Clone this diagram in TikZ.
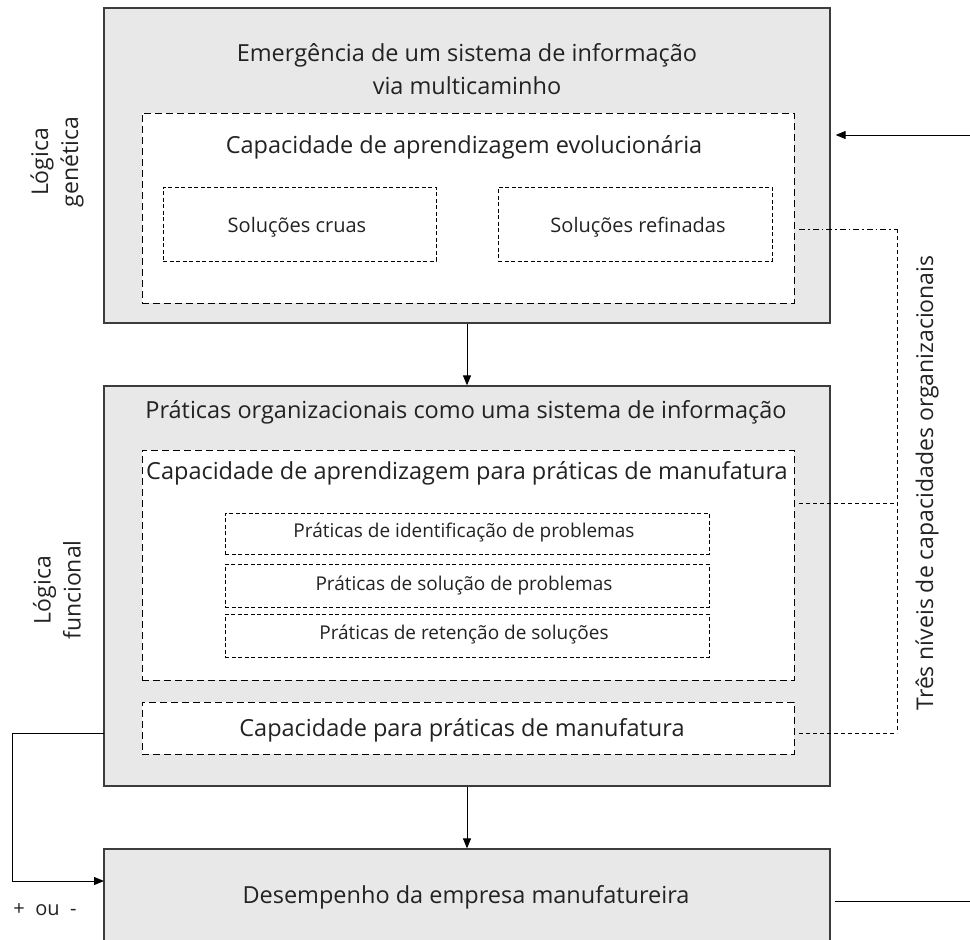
\documentclass[tikz,border=0pt]{standalone}
\usepackage{fontspec}
\setmainfont{Open Sans}
\usetikzlibrary{arrows.meta}

\definecolor{boxfill}{HTML}{E8E8E8}
\definecolor{boxline}{HTML}{3C3C3C}
\definecolor{ink}{HTML}{222222}

\newcommand{\bigtxt}{\fontsize{23.5}{33}\selectfont}
\newcommand{\sidetxt}{\fontsize{23}{30}\selectfont}
\newcommand{\midtxt}{\fontsize{20}{24}\selectfont}
\newcommand{\smalltxt}{\fontsize{19}{22}\selectfont}

\tikzset{
  outerbox/.style={draw=boxline, fill=boxfill, line width=1.3pt, inner sep=0pt},
  groupbox/.style={draw=black, fill=white, line width=0.9pt, dash pattern=on 7pt off 4pt, inner sep=0pt},
  itembox/.style={draw=black, fill=white, line width=0.9pt, dash pattern=on 4pt off 2.5pt, inner sep=0pt},
  label/.style={text=ink, inner sep=0pt, align=center},
  flow/.style={line width=1pt, -{Triangle[length=10pt,width=8pt]}},
  link/.style={line width=0.9pt, dash pattern=on 4pt off 3pt},
  linkdot/.style={line width=0.9pt, dash pattern=on 6pt off 3pt on 1.5pt off 3pt},
}

\begin{document}
\begin{tikzpicture}[x=1pt, y=-1pt]
  \clip (0,0) rectangle (970,940);

  % genetic logic: emergence of an information system
  \node[outerbox, minimum width=726pt, minimum height=315pt] (top) at (467,165.5) {};
  \node[label, font=\bigtxt] (toptitle) at (467,69.5) {Emergência de um sistema de informação\\via multicaminho};
  \node[groupbox, minimum width=652pt, minimum height=190pt] (evol) at (468,208) {};
  \node[label, font=\bigtxt] (evoltitle) at (464,147) {Capacidade de aprendizagem evolucionária};
  \node[itembox, minimum width=273pt, minimum height=74pt] (raw) at (299.5,224) {};
  \node[label, font=\midtxt] (rawtext) at (297,227) {Soluções cruas};
  \node[itembox, minimum width=274pt, minimum height=74pt] (refined) at (635,224) {};
  \node[label, font=\midtxt] (refinedtext) at (638,227) {Soluções refinadas};

  % functional logic: organizational practices
  \node[outerbox, minimum width=726pt, minimum height=400pt] (mid) at (467,586) {};
  \node[label, font=\bigtxt] (midtitle) at (466,412) {Práticas organizacionais como uma sistema de informação};
  \node[groupbox, minimum width=652pt, minimum height=230pt] (learn) at (468,565) {};
  \node[label, font=\bigtxt] (learntitle) at (467,473) {Capacidade de aprendizagem para práticas de manufatura};
  \node[itembox, minimum width=484pt, minimum height=41pt] (pa) at (467,533.5) {};
  \node[label, font=\smalltxt] (patext) at (464,532) {Práticas de identificação de problemas};
  \node[itembox, minimum width=484pt, minimum height=43pt] (pb) at (467,585.5) {};
  \node[label, font=\smalltxt] (pbtext) at (464,585) {Práticas de solução de problemas};
  \node[itembox, minimum width=484pt, minimum height=43pt] (pc) at (467,635.5) {};
  \node[label, font=\smalltxt] (pctext) at (464,634) {Práticas de retenção de soluções};
  \node[groupbox, minimum width=652pt, minimum height=52pt] (manuf) at (468,728) {};
  \node[label, font=\bigtxt] (manuftext) at (462,730) {Capacidade para práticas de manufatura};

  % firm performance
  \node[outerbox, minimum width=726pt, minimum height=111pt] (perf) at (467,904.5) {};
  \node[label, font=\bigtxt] (perftext) at (466,897) {Desempenho da empresa manufatureira};

  % side labels
  \node[label, font=\sidetxt, rotate=90] (genetic) at (57,162) {Lógica\\genética};
  \node[label, font=\sidetxt, rotate=90] (functional) at (57,590) {Lógica\\funcional};
  \node[label, font=\sidetxt, rotate=90] (levels) at (927,483) {Três níveis de capacidades organizacionais};
  \node[label, font=\midtxt] (sign) at (45,910) {+\ \ ou\ \ -};

  % free ends of the outside connectors
  \coordinate (inR) at (970,135);
  \coordinate (outR) at (970,901);
  \coordinate (fbY) at (104,733);
  \coordinate (fbIn) at (104,881);
  \coordinate (bus) at (897,229);
  \coordinate (busEnd) at (897,733);

  % main flow
  \draw[flow] (top.south) -- (mid.north);
  \draw[flow] (mid.south) -- (perf.north);
  \draw[flow, shorten >=5pt] (inR) -- (inR -| top.east);
  \draw[line width=1pt, shorten <=4pt] (perf.east |- outR) -- (outR);

  % feedback from the practices to performance
  \draw[flow] (fbY) -- ++(-92,0) |- (fbIn);

  % links of the three capability levels
  \draw[linkdot, shorten <=5pt] (evol.east |- bus) -- (bus);
  \draw[link] (bus) -- (busEnd);
  \draw[link, shorten <=5pt] (learn.east |- 0,503) -- (897,503);
  \draw[link, shorten <=5pt] (manuf.east |- busEnd) -- (busEnd);
\end{tikzpicture}
\end{document}
